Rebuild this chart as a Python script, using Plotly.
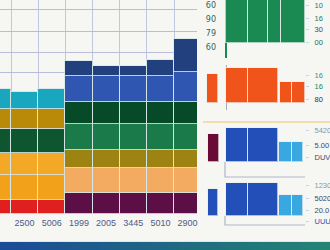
import plotly.graph_objects as go

W, H = 330, 250

# ---------------- main stacked chart data ----------------
bar_pos = [0, 1, 2, 3, 4, 5, 6, 7]
tick_labels = ["2506", "2500", "5006", "1999", "2005", "3445", "5010", "2900"]

level1 = [14, 14, 14, 21, 21, 21, 21, 21]
level2 = [25, 25, 25, 25, 25, 25, 25, 25]
level3 = [22, 22, 22, 18, 18, 18, 18, 18]
level4 = [24, 24, 24, 26, 26, 26, 26, 26]
level5 = [20, 20, 20, 22, 22, 22, 22, 22]
level6 = [20, 17, 20, 26, 26, 26, 26, 30]
level7 = [0, 0, 0, 15, 10, 10, 16, 33]

A, B = 3, 5
col1 = ["#e01f1f"] * A + ["#5b0f46"] * B
col2 = ["#f2a11a"] * A + ["#f3ab62"] * B
col3 = ["#f3a926"] * A + ["#9c8312"] * B
col4 = ["#0e5630"] * A + ["#1b7a49"] * B
col5 = ["#b98a08"] * A + ["#064a28"] * B
col6 = ["#19a7c0"] * A + ["#2f56b0"] * B
col7 = ["#22407e"] * 8

# ---------------- right panels data ----------------
p1_left = [0, 22, 42, 55]
p1_width = [22, 20, 13, 24]
p1_val = [50, 50, 50, 50]
p1_ltext = ["60", "90", "79", "60"]
p1_lvals = [37.5, 24, 10, -4]
p1_rtext = ["10", "16", "30", "00"]
p1_rvals = [37.5, 25, 14, 1]

p2_left = [-19, 0, 22, 54, 66]
p2_width = [11, 22, 30, 12, 13]
p2_val = [29, 35, 35, 21, 21]
p2_rtext = ["16", "16", "80"]
p2_rvals = [28, 17, 4]

p3_left = [-18, 0, 22, 53, 66]
p3_width = [11, 22, 30, 13, 11]
p3_val = [28, 34, 34, 20, 20]
p3_rtext = ["5420", "5.00", "DUV"]
p3_rvals = [32, 17, 5]

p4_left = [-18, 0, 22, 53, 66]
p4_width = [10, 22, 30, 13, 11]
p4_val = [27, 33, 33, 21, 21]
p4_rtext = ["1230", "5020", "20.0", "UUU"]
p4_rvals = [31, 18, 6, -5]

fig = go.Figure()

line_sep = dict(color="rgba(215,232,232,0.85)", width=1)
for vals, cols in [(level1, col1), (level2, col2), (level3, col3), (level4, col4),
                   (level5, col5), (level6, col6), (level7, col7)]:
    fig.add_trace(go.Bar(x=bar_pos, y=vals, marker=dict(color=cols, line=line_sep),
                         width=1, xaxis="x", yaxis="y", showlegend=False))

sep = dict(color="rgba(235,240,240,0.7)", width=1)
fig.add_trace(go.Bar(x=p1_left, y=p1_val, width=p1_width, offset=0,
                     marker=dict(color="#1b8a52", line=sep), xaxis="x2", yaxis="y2", showlegend=False))
fig.add_trace(go.Bar(x=p2_left, y=p2_val, width=p2_width, offset=0,
                     marker=dict(color="#f0541a", line=sep), xaxis="x3", yaxis="y3", showlegend=False))
fig.add_trace(go.Bar(x=p3_left, y=p3_val, width=p3_width, offset=0,
                     marker=dict(color=["#6a0a36", "#2350b8", "#2350b8", "#3aa8e0", "#3aa8e0"], line=sep),
                     xaxis="x4", yaxis="y4", showlegend=False))
fig.add_trace(go.Bar(x=p4_left, y=p4_val, width=p4_width, offset=0,
                     marker=dict(color=["#2350b8", "#2350b8", "#2350b8", "#3aa8e0", "#3aa8e0"], line=sep),
                     xaxis="x5", yaxis="y5", showlegend=False))

def py2f(py):
    return (H - py) / H

XD = [200 / W, 305 / W]

layout = dict(
    template="none",
    width=W, height=H, margin=dict(l=0, r=0, t=0, b=0, pad=0),
    paper_bgcolor="#f6f6f2", plot_bgcolor="#f6f6f2",
    barmode="stack", bargap=0,
    font=dict(family="Liberation Sans", size=9, color="#55608a"),
    xaxis=dict(domain=[0, 197 / W], range=[0.095, 7.346], tickmode="array",
               tickvals=bar_pos, ticktext=tick_labels, showgrid=False, zeroline=False,
               ticks="", ticklabelstandoff=2, showline=False,
               tickfont=dict(size=9, color="#4f5a88", family="Liberation Sans"),
               minor=dict(tickmode="array", tickvals=[0.5, 1.5, 2.5, 3.5, 4.5, 5.5, 6.5],
                          showgrid=True, gridcolor="#c3c6df", gridwidth=1, ticks="")),
    yaxis=dict(domain=[py2f(214), 1], range=[0, 214], tickmode="array",
               tickvals=[142, 162, 183, 205], showticklabels=False, ticks="", showline=False,
               showgrid=True, gridcolor="#b9bdd9", gridwidth=1, zeroline=False),
)

panels = [
    (2, [0, 58], [-15, 43], p1_rtext, p1_rvals, ["#2a7a6a", "#2a7a6a", "#4a4a30", "#2a6a60"]),
    (3, [65, 110], [-7, 38], p2_rtext, p2_rvals, ["#2a9a8a", "#1a8a5a", "#303050"]),
    (4, [124, 178], [-16, 38], p3_rtext, p3_rvals, ["#8a96aa", "#3a4a6a", "#3a4a6a"]),
    (5, [180, 228], [-12, 36], p4_rtext, p4_rvals, ["#8a96aa", "#3a4a6a", "#3a4a6a", "#3050b0"]),
]

for n, (top, bot), yr, rt, rv, rc in panels:
    layout[f"xaxis{n}"] = dict(domain=XD, range=[-26, 79], anchor=f"y{n}", showgrid=False,
                               showticklabels=False, showline=False, ticks="",
                               zeroline=(n in (2, 3)),
                               zerolinecolor="#1b8a52" if n == 2 else "#a8aab8",
                               zerolinewidth=2 if n == 2 else 1)
    dom = [py2f(bot), py2f(top)]
    layout[f"yaxis{n}"] = dict(domain=dom, range=yr, anchor=f"x{n}", showgrid=False,
                               zeroline=False, showline=False, showticklabels=False, ticks="")
    m = n + 4
    texts = [f"<span style='color:{c}'>{t}</span>" for t, c in zip(rt, rc)]
    layout[f"yaxis{m}"] = dict(overlaying=f"y{n}", side="right", anchor=f"x{n}", range=yr,
                               domain=dom, tickmode="array", tickvals=rv, ticktext=texts,
                               showgrid=False, zeroline=False, showline=False,
                               ticks="outside", ticklen=3, tickcolor="#c8d8e8",
                               ticklabelstandoff=4,
                               tickfont=dict(size=7.5, family="Liberation Sans"))

layout["yaxis10"] = dict(overlaying="y2", side="left", anchor="free", position=217 / W,
                         range=[-15, 43], domain=[py2f(58), 1], tickmode="array",
                         tickvals=p1_lvals, ticktext=p1_ltext, showgrid=False, zeroline=False,
                         showline=False, ticks="", ticklabelstandoff=1,
                         tickfont=dict(size=8, color="#2a6a60", family="DejaVu Sans"))

fig.update_layout(**layout)

for n in (2, 3, 4, 5):
    fig.add_trace(go.Scatter(x=[None], y=[None], xaxis=f"x{n}", yaxis=f"y{n+4}", showlegend=False))
fig.add_trace(go.Scatter(x=[None], y=[None], xaxis="x2", yaxis="y10", showlegend=False))

fig.update_xaxes(automargin=False)
fig.update_yaxes(automargin=False)

shapes = []
for n, ybox in ((4, -15), (5, -9)):
    shapes.append(dict(type="path", xref=f"x{n}", yref=f"y{n}",
                       path=f"M -1,0 L -1,{ybox} L 79,{ybox}",
                       line=dict(color="#aeb6c8", width=1.2)))
shapes.append(dict(type="line", xref="paper", yref="paper", x0=203 / W, x1=1,
                   y0=py2f(122), y1=py2f(122), line=dict(color="#f0d49a", width=1.5)))
c0 = (0x1b, 0x4c, 0x96)
c1 = (0x24, 0x84, 0x74)
nseg = 33
for i in range(nseg):
    t = i / (nseg - 1)
    col = tuple(int(c0[k] + (c1[k] - c0[k]) * t) for k in range(3))
    shapes.append(dict(type="rect", xref="paper", yref="paper", x0=i / nseg, x1=(i + 1) / nseg + 0.002,
                       y0=0, y1=py2f(242), line=dict(width=0),
                       fillcolor="rgb(%d,%d,%d)" % col))
shapes.append(dict(type="line", xref="paper", yref="paper", x0=0, x1=1, y0=py2f(241.5), y1=py2f(241.5),
                   line=dict(color="#dfe6ee", width=1)))
fig.update_layout(shapes=shapes)

fig.write_html("out.html")
